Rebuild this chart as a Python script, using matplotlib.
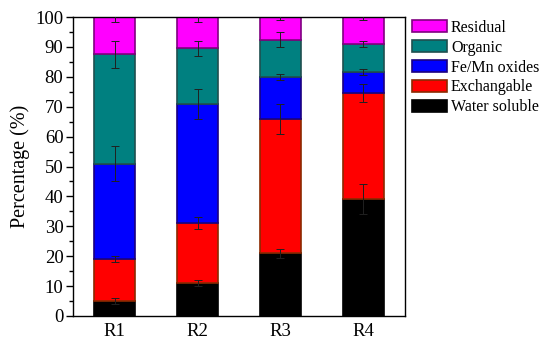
import matplotlib
matplotlib.use("Agg")
import matplotlib.pyplot as plt
from matplotlib.ticker import MultipleLocator
import numpy as np

plt.rcParams['font.family'] = ['Liberation Serif', 'DejaVu Serif']

samples = ["R1", "R2", "R3", "R4"]
series = ["Water soluble", "Exchangable", "Fe/Mn oxides", "Organic", "Residual"]
water_soluble = [5.0, 11.0, 21.0, 39.0]
exchangable = [14.0, 20.0, 45.0, 35.5]
fe_mn_oxides = [32.0, 40.0, 14.0, 7.0]
organic = [36.5, 18.5, 12.5, 9.5]
residual = [12.5, 10.5, 7.5, 9.0]

err_water = [1.0, 1.0, 1.5, 5.0]
err_exch = [1.0, 2.0, 5.0, 3.0]
err_femn = [6.0, 5.0, 1.0, 1.0]
err_org = [4.5, 2.5, 2.5, 1.0]
err_res = [1.5, 1.5, 1.0, 1.0]

values = [water_soluble, exchangable, fe_mn_oxides, organic, residual]
errors = [err_water, err_exch, err_femn, err_org, err_res]
face = ["#000000", "#FF0000", "#0000FF", "#008080", "#FF00FF"]
edge = ["#000000", "#8B2A00", "#1A0080", "#1F4F4F", "#800080"]

fig = plt.figure(figsize=(5.5, 3.49), dpi=100)
ax = fig.add_axes([0.133, 0.0946, 0.603, 0.8564])

x = np.arange(1, len(samples) + 1)
bottom = np.zeros(len(samples))
handles = []
for vals, errs, fc, ec, name in zip(values, errors, face, edge, series):
    vals = np.array(vals)
    h = ax.bar(x, vals, width=0.5, bottom=bottom, color=fc, edgecolor=ec,
               linewidth=1.2, label=name, zorder=2)
    handles.append(h)
    top = bottom + vals
    ax.errorbar(x, top, yerr=errs, fmt='none', ecolor='#202020',
                elinewidth=0.7, capsize=3, capthick=0.7, zorder=3)
    bottom = top

ax.set_xlim(0.5, 4.5)
ax.set_ylim(0, 100)
ax.set_xticks(x)
ax.set_xticklabels(samples, fontsize=13.5)
ax.tick_params(axis='x', length=0, pad=5)
ax.yaxis.set_major_locator(MultipleLocator(10))
ax.yaxis.set_minor_locator(MultipleLocator(5))
ax.tick_params(axis='y', which='major', direction='out', length=5, width=1, labelsize=13.5, pad=2)
ax.tick_params(axis='y', which='minor', direction='out', length=3, width=1)
ax.set_ylabel("Percentage (%)", fontsize=14.5, labelpad=4)
for s in ax.spines.values():
    s.set_linewidth(1)

leg = fig.legend(handles[::-1], series[::-1], loc='upper left',
                 bbox_to_anchor=(0.749, 0.943), frameon=False, fontsize=11.5,
                 handlelength=2.2, handleheight=0.8, labelspacing=0.24,
                 handletextpad=0.25, borderaxespad=0, borderpad=0)

fig.savefig("out.png", dpi=100)
